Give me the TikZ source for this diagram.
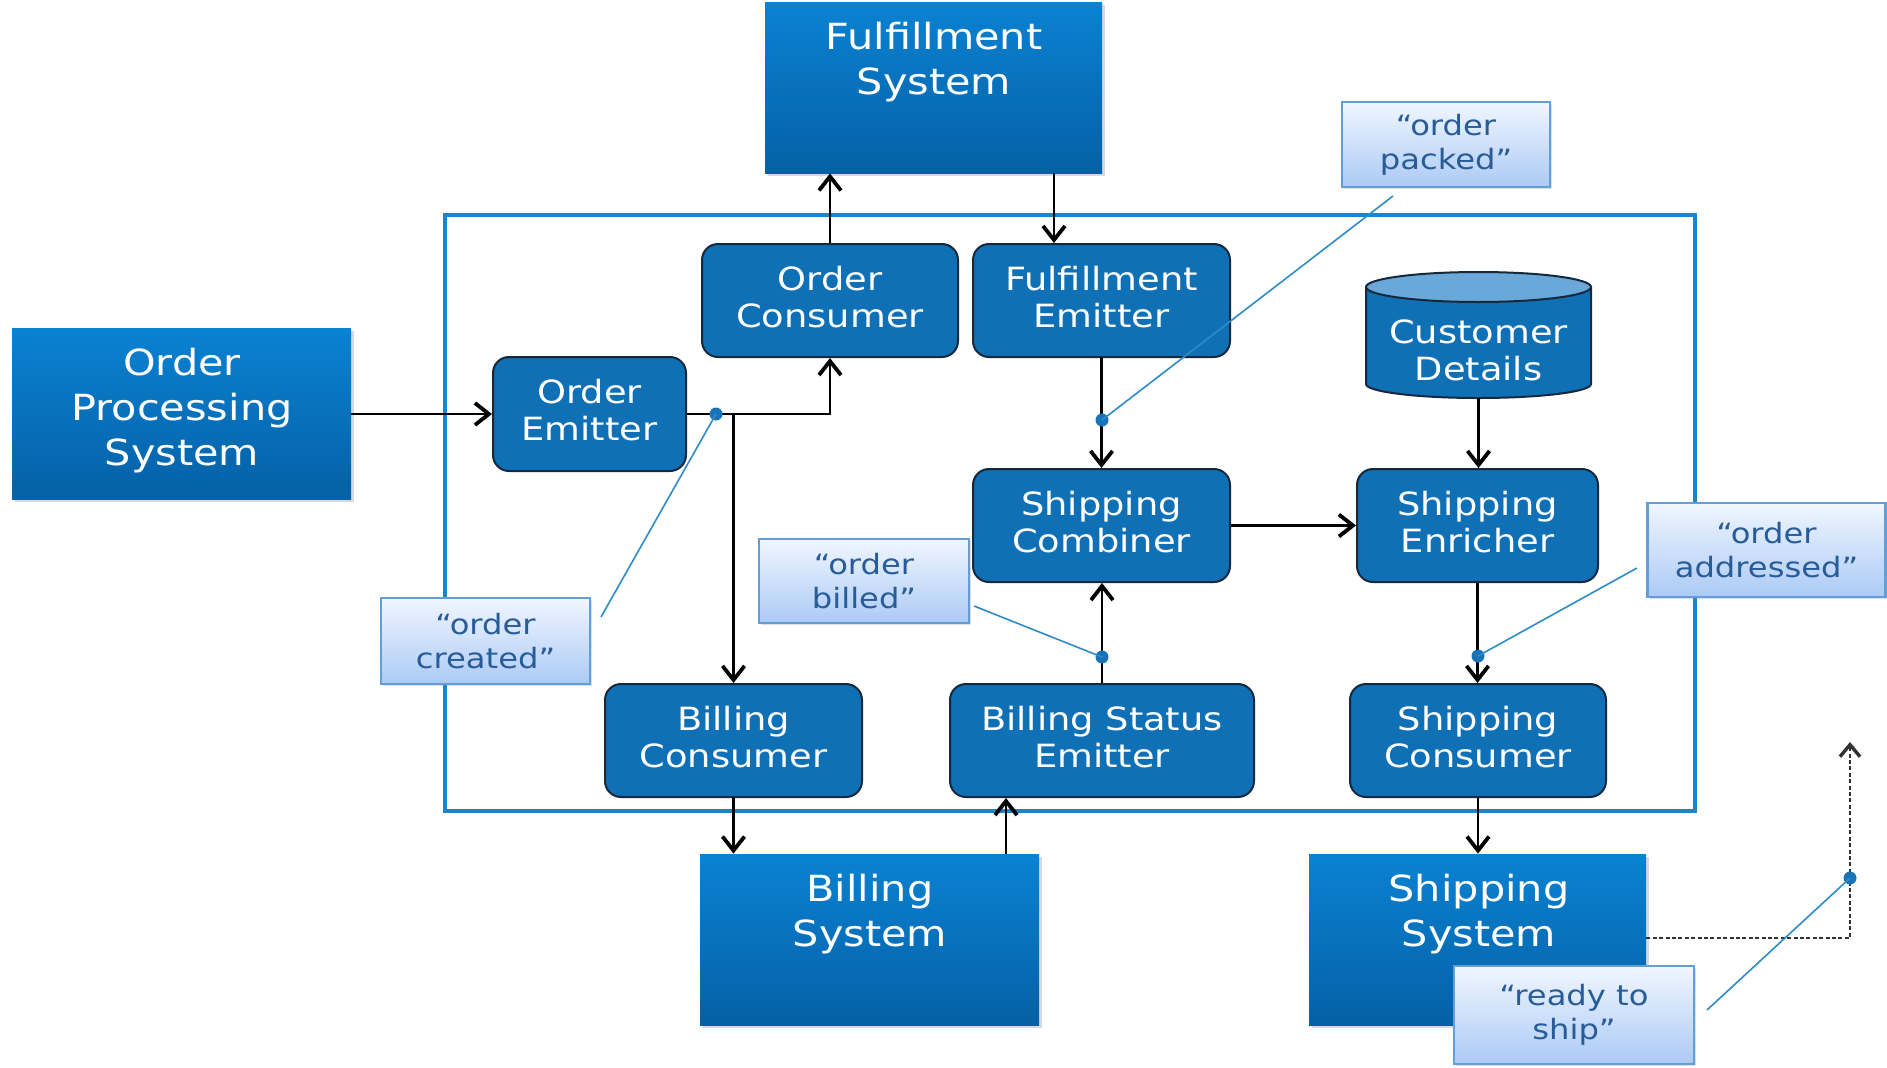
\documentclass[tikz,border=0pt]{standalone}
\usepackage{fontspec}
\setmainfont[FakeStretch=1.15]{DejaVu Sans}
\usetikzlibrary{arrows.meta,shadows}

\definecolor{sysTop}{RGB}{10,130,210}
\definecolor{sysBot}{RGB}{5,96,166}
\definecolor{procFill}{RGB}{15,112,182}
\definecolor{procLine}{RGB}{22,40,60}
\definecolor{frameBlue}{RGB}{30,132,200}
\definecolor{lblTop}{RGB}{240,246,255}
\definecolor{lblBot}{RGB}{172,202,245}
\definecolor{lblLine}{RGB}{100,158,215}
\definecolor{lblText}{RGB}{40,92,152}
\definecolor{leader}{RGB}{45,140,200}
\definecolor{dotBlue}{RGB}{25,115,185}
\definecolor{cylTop}{RGB}{105,168,216}
\definecolor{dashGray}{RGB}{50,50,50}

\begin{document}
\begin{tikzpicture}[x=0.5pt,y=-0.5pt,
  sysbox/.style={rectangle, inner sep=0pt, top color=sysTop, bottom color=sysBot, draw=none,
    drop shadow={shadow xshift=1.5pt, shadow yshift=-1.5pt, opacity=0.3}},
  systext/.style={text=white, align=center, inner sep=0pt, font=\fontsize{18}{22.5}\selectfont},
  proc/.style={rectangle, rounded corners=8pt, fill=procFill, draw=procLine, line width=1pt,
    text=white, align=center, inner sep=0pt, font=\fontsize{16}{18.5}\selectfont,
    execute at end node={\rule[-4pt]{0pt}{0pt}}},
  proctext/.style={text=white, align=center, inner sep=0pt, font=\fontsize{16}{18.5}\selectfont},
  lbl/.style={rectangle, top color=lblTop, bottom color=lblBot, draw=lblLine, line width=1.1pt,
    text=lblText, align=center, inner sep=0pt, font=\fontsize{14}{17}\selectfont,
    drop shadow={shadow xshift=1pt, shadow yshift=-1pt, opacity=0.25}},
  conn/.style={draw=black, line width=1.1pt, -{Straight Barb[length=7pt,width=11pt,line width=1.9pt]}},
  dashconn/.style={draw=dashGray, line width=0.75pt, dash pattern=on 2pt off 1.2pt,
    -{Straight Barb[length=6pt,width=10pt,line width=1.7pt]}},
  leadline/.style={draw=leader, line width=0.8pt},
  dotnode/.style={circle, fill=dotBlue, inner sep=0pt, minimum size=6.5pt},
]
\useasboundingbox (0,0) rectangle (1887,1067);

% frame
\node[draw=frameBlue, line width=2.1pt, minimum width=625pt, minimum height=298pt, inner sep=0pt] (frame) at (1070,513) {};

% system boxes
\node[sysbox, minimum width=169.5pt, minimum height=85.5pt] (ops) at (181.5,413.5) {};
\node[systext] (opst) at (182,411) {Order\\Processing\\System};
\node[sysbox, minimum width=168.5pt, minimum height=85.5pt] (fs) at (933.5,87.5) {};
\node[systext] (fst) at (934,62) {Fulfillment\\System};
\node[sysbox, minimum width=169.5pt, minimum height=85.5pt] (bs) at (869.5,939.5) {};
\node[systext] (bst) at (870,914) {Billing\\System};
\node[sysbox, minimum width=168.5pt, minimum height=85.5pt] (ss) at (1477.5,939.5) {};
\node[systext] (sst) at (1479,914) {Shipping\\System};

% process boxes
\node[proc, minimum width=128pt, minimum height=56.5pt] (oc) at (830,300.5) {Order\\Consumer};
\node[proc, minimum width=128.5pt, minimum height=56.5pt] (fe) at (1101.5,300.5) {Fulfillment\\Emitter};
\node[proc, minimum width=96.5pt, minimum height=57pt] (oe) at (589.5,414) {Order\\Emitter};
\node[proc, minimum width=128.5pt, minimum height=56.5pt] (sc) at (1101.5,525.5) {Shipping\\Combiner};
\node[proc, minimum width=120.5pt, minimum height=56.5pt] (se) at (1477.5,525.5) {Shipping\\Enricher};
\node[proc, minimum width=128.5pt, minimum height=56.5pt] (bc) at (733.5,740.5) {Billing\\Consumer};
\node[proc, minimum width=152pt, minimum height=56.5pt] (bse) at (1102,740.5) {Billing Status\\Emitter};
\node[proc, minimum width=128pt, minimum height=56.5pt] (shc) at (1478,740.5) {Shipping\\Consumer};

% customer details cylinder
\node[inner sep=0pt, minimum width=112.5pt, minimum height=63pt] (cd) at (1478.5,335) {};
\fill[procFill] (1366,287) -- (1366,384) arc[start angle=180,end angle=360,x radius=56.25pt,y radius=7pt] -- (1591,287) -- cycle;
\draw[procLine, line width=1pt] (1366,287) -- (1366,384) arc[start angle=180,end angle=360,x radius=56.25pt,y radius=7pt] -- (1591,287);
\filldraw[fill=cylTop, draw=procLine, line width=1pt] (1478.5,287) ellipse[x radius=56.25pt, y radius=7.5pt];
\node[proctext] (cdt) at (1478.5,350) {Customer\\Details};

% connectors
\coordinate (fsout) at (1054,173);
\coordinate (bsout) at (1006,854);
\coordinate (dcorner) at (1850,938);
\coordinate (dend) at (1850,742);
\draw[conn] (ops.east |- oe.west) -- (oe.west);
\draw[conn] (oe.east) -| (oc.south);
\draw[conn] (bc.north |- oe.east) -- (bc.north);
\draw[conn] (oc.north) -- (oc.north |- fs.south);
\draw[conn] (fsout) -- (fsout |- fe.north);
\draw[conn] (fe.south) -- (sc.north);
\draw[conn] (cd.south) -- (cd.south |- se.north);
\draw[conn] (sc.east) -- (se.west);
\draw[conn] (se.south) -- (se.south |- shc.north);
\draw[conn] (bse.north) -- (bse.north |- sc.south);
\draw[conn] (bc.south) -- (bc.south |- bs.north);
\draw[conn] (bsout) -- (bsout |- bse.south);
\draw[conn] (shc.south) -- (shc.south |- ss.north);
\draw[dashconn] (ss.east |- dcorner) -- (dcorner) -- (dend);

% dots
\node[dotnode] (d1) at (716,414) {};
\node[dotnode] (d2) at (1102,420) {};
\node[dotnode] (d3) at (1102,657) {};
\node[dotnode] (d4) at (1478,656) {};
\node[dotnode] (d5) at (1850,878) {};

% leader lines
\coordinate (e1) at (601,617);
\coordinate (e2) at (1393,196);
\coordinate (e3) at (974,606);
\coordinate (e4) at (1637,568);
\coordinate (e5) at (1707,1010);
\draw[leadline] (d1.center) -- (e1);
\draw[leadline] (d2.center) -- (e2);
\draw[leadline] (d3.center) -- (e3);
\draw[leadline] (d4.center) -- (e4);
\draw[leadline] (d5.center) -- (e5);

% labels
\node[lbl, minimum width=104pt, minimum height=42.5pt] (lp) at (1446,144.5) {“order\\packed”};
\node[lbl, minimum width=104.5pt, minimum height=43pt] (lc) at (485.5,641) {“order\\created”};
\node[lbl, minimum width=105pt, minimum height=42pt] (lb) at (864,581) {“order\\billed”};
\node[lbl, minimum width=119pt, minimum height=47pt] (la) at (1766.5,550) {“order\\addressed”};
\node[lbl, minimum width=120pt, minimum height=49pt] (lr) at (1574,1015) {“ready to\\ship”};
\end{tikzpicture}
\end{document}
